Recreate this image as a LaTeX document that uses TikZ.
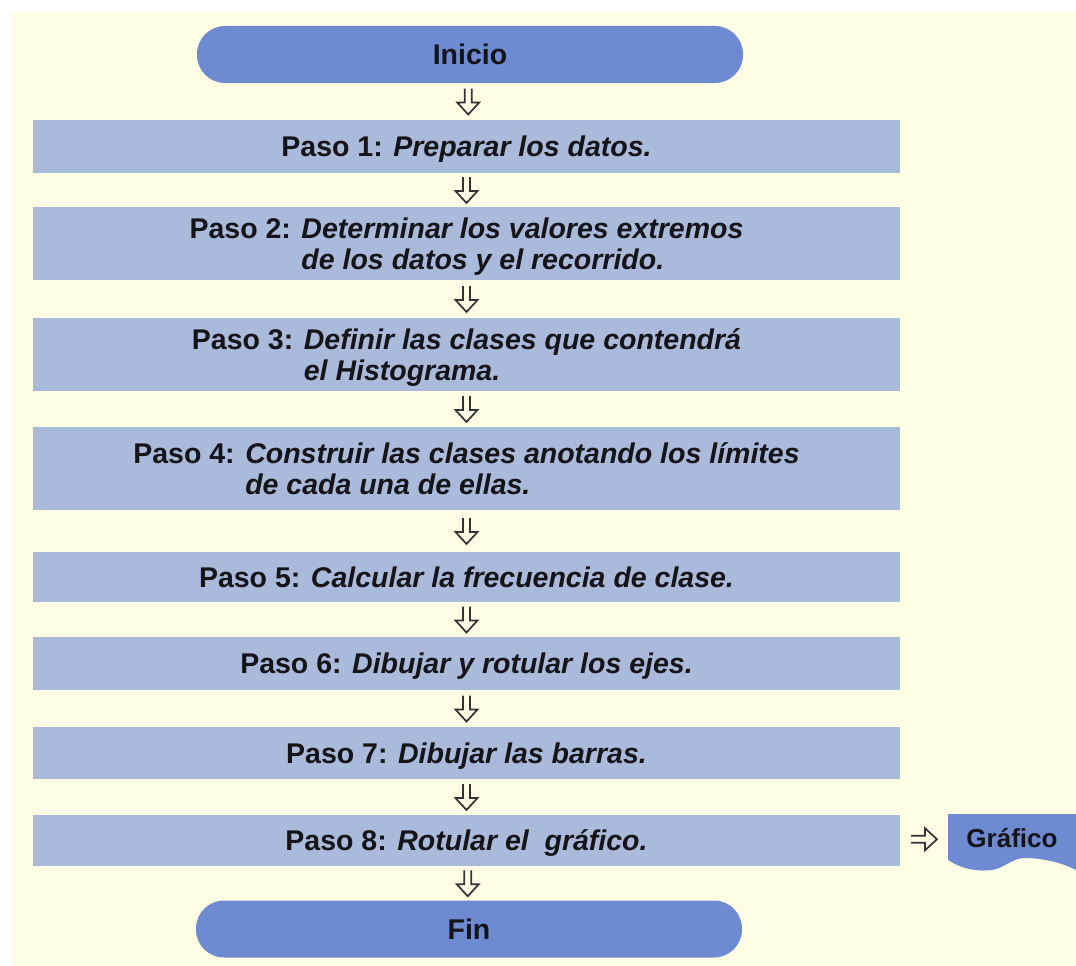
\documentclass[tikz,border=0pt]{standalone}
\usepackage{fontspec}
\setmainfont{Liberation Sans}
\usetikzlibrary{calc}
\definecolor{cream}{RGB}{255,254,228}
\definecolor{stepfill}{RGB}{170,186,219}
\definecolor{termfill}{RGB}{110,138,208}
\definecolor{inkc}{RGB}{20,20,25}
\definecolor{arrowc}{RGB}{50,50,55}
\newcommand\stepfont{\fontsize{28.5}{31}\selectfont\bfseries}
\newcommand\grafont{\fontsize{26}{30}\selectfont\bfseries}
\tikzset{
  stepbox/.style={fill=stepfill, minimum width=867pt, inner sep=0pt, text=inkc, font=\stepfont, text height=20.5pt, text depth=0pt},
  twoline/.style={text depth=31pt},
  termbox/.style={fill=termfill, rounded corners=28pt, minimum width=546pt, minimum height=57pt, inner sep=0pt, text=inkc, font=\stepfont, text height=20.5pt, text depth=0pt},
  arrowline/.style={draw=arrowc, line width=1.7pt, line join=miter},
  downarr/.pic={\path[arrowline] (-3.5,-13) -- (-3.5,1) -- (-11,1) -- (0,13) -- (11,1) -- (3.5,1) -- (3.5,-13);},
  rightarr/.pic={\path[arrowline] (-13,-3.5) -- (1,-3.5) -- (1,-11) -- (13,0) -- (1,11) -- (1,3.5) -- (-13,3.5);}
}
\begin{document}
\begin{tikzpicture}[x=1pt,y=-1pt]
\useasboundingbox (0,0) rectangle (1076,966);
\fill[white] (0,0) rectangle (1076,966);
\fill[cream] (11,12) rectangle (1076,966);

\node[termbox] (inicio) at (470,54.5) {Inicio};
\node[stepbox, minimum height=53pt] (p1) at (466.5,146.5) {Paso 1: \textit{Preparar los datos.}};
\node[stepbox, twoline, minimum height=73pt] (p2) at (466.5,243.5) {Paso 2: \begin{tabular}[t]{@{}l@{}}\itshape Determinar los valores extremos\\\itshape de los datos y el recorrido.\end{tabular}};
\node[stepbox, twoline, minimum height=73pt] (p3) at (466.5,354.5) {Paso 3: \begin{tabular}[t]{@{}l@{}}\itshape Definir las clases que contendrá\\\itshape el Histograma.\end{tabular}};
\node[stepbox, twoline, minimum height=83pt] (p4) at (466.5,468.5) {Paso 4: \begin{tabular}[t]{@{}l@{}}\itshape Construir las clases anotando los límites\\\itshape de cada una de ellas.\end{tabular}};
\node[stepbox, minimum height=50pt] (p5) at (466.5,577) {Paso 5: \textit{Calcular la frecuencia de clase.}};
\node[stepbox, minimum height=53pt] (p6) at (466.5,663.5) {Paso 6: \textit{Dibujar y rotular los ejes.}};
\node[stepbox, minimum height=52pt] (p7) at (466.5,753) {Paso 7: \textit{Dibujar las barras.}};
\node[stepbox, minimum height=51pt] (p8) at (466.5,840.5) {Paso 8: \textit{Rotular el\ \ gráfico.}};
\node[termbox] (fin) at (469,929) {Fin};

\fill[termfill] (948,814) -- (1076,814) -- (1076,870)
  .. controls (1065,864) and (1045,858) .. (1025,858)
  .. controls (1012,858) and (1005,868) .. (992,870)
  .. controls (975,872) and (960,868) .. (948,860) -- cycle;
\node[text=inkc, font=\grafont, minimum width=128pt, minimum height=48pt, inner sep=0pt, text height=19pt, text depth=0pt] (grafico) at (1012,838) {Gráfico};

\foreach \a/\b in {inicio/p1,p1/p2,p2/p3,p3/p4,p4/p5,p5/p6,p6/p7,p7/p8,p8/fin}
  \pic at ($(\a.south)!0.5!(\b.north)$) {downarr};
\pic at ($(p8.east)!0.5!(grafico.west)$) {rightarr};
\end{tikzpicture}
\end{document}
